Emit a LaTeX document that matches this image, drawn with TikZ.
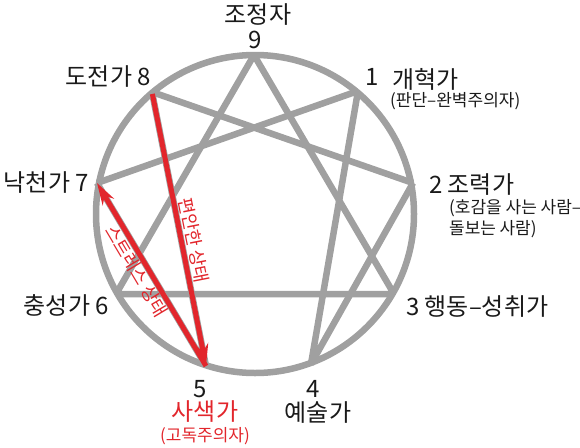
\documentclass[tikz,border=0pt]{standalone}
\usepackage{fontspec}
\setmainfont{Noto Sans CJK KR}
\usetikzlibrary{arrows.meta}
\definecolor{eg}{HTML}{A0A0A0}
\definecolor{er}{HTML}{E2262C}
\definecolor{tx}{HTML}{1A1A1A}
\tikzset{
  ring/.style={draw=eg, line width=6.5pt},
  chord/.style={draw=eg, line width=6.5pt},
  redarrow/.style={draw=er, line width=5pt, -{Stealth[length=22pt,width=13pt]}},
  big/.style={font=\fontsize{24}{27}\selectfont, text=tx, inner sep=0pt},
  small/.style={font=\fontsize{17}{20}\selectfont, text=tx, inner sep=0pt},
  redsmall/.style={font=\fontsize{17}{20}\selectfont, text=er, inner sep=0pt},
  redlabel/.style={font=\fontsize{18}{21}\selectfont, text=er, inner sep=0pt},
}
\begin{document}
\begin{tikzpicture}[x=1pt,y=-1pt]
\useasboundingbox (0,0) rectangle (580,447);
\coordinate (c) at (255,214);
\coordinate (p9) at (254,55);
\coordinate (p1) at (358,91);
\coordinate (p2) at (413,183);
\coordinate (p3) at (394,294);
\coordinate (p4) at (311,364);
\coordinate (p5) at (206,366);
\coordinate (p6) at (116,294);
\coordinate (p7) at (97,183);
\coordinate (p8) at (152,92);
% circle
\draw[ring] (c) circle[radius=159];
% triangle
\draw[chord] (p9) -- (p3) (p3) -- (p6) (p6) -- (p9);
% hexad
\draw[chord] (p1) -- (p4) (p4) -- (p2) (p2) -- (p8) (p8) -- (p5) (p5) -- (p7) (p7) -- (p1);
% red arrows
\draw[redarrow, shorten <=2pt] (p8) -- (p5);
\draw[redarrow] (p5) -- (p7);
\path (p8) -- (p5) node[pos=0.55, sloped, above=4pt, redlabel] (calm) {편안한 상태};
\path (p7) -- (p5) node[pos=0.45, sloped, below=3pt, redlabel] (stress) {스트레스 상태};
% labels
\node[big] (t9a) at (258,15) {조정자};
\node[big] (t9) at (255,40) {9};
\node[big, anchor=east] (t8) at (151,76) {도전가 8};
\node[big] (t1) at (372,77) {1};
\node[big, anchor=west] (t1a) at (392,79) {개혁가};
\node[small, anchor=west] (t1b) at (390,101) {(판단–완벽주의자)};
\node[big, anchor=east] (t7) at (89,183) {낙천가 7};
\node[big, anchor=west] (t2) at (429,185) {2 조력가};
\node[small, anchor=west] (t2b) at (449,208) {(호감을\hspace{0.22em}사는\hspace{0.22em}사람–};
\node[small, anchor=west] (t2c) at (449,229) {돌보는\hspace{0.2em}사람)};
\node[big, anchor=east] (t6) at (109,305) {충성가 6};
\node[big, anchor=west] (t3) at (406,307) {3 행동–성취가};
\node[big] (t5) at (200,389) {5};
\node[big, text=er] (t5a) at (205,412) {사색가};
\node[redsmall] (t5b) at (205,436) {(고독주의자)};
\node[big] (t4) at (313,389) {4};
\node[big] (t4a) at (318,413) {예술가};
\end{tikzpicture}
\end{document}
